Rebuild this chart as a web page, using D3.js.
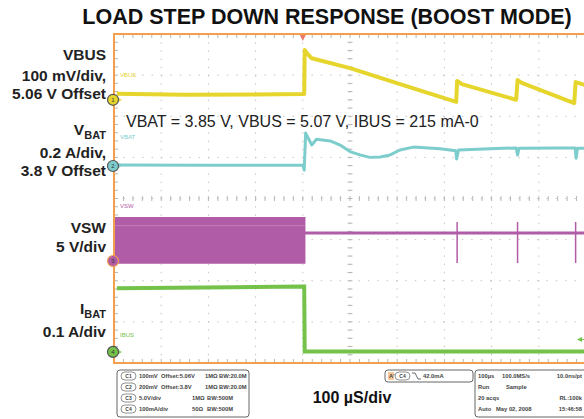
<!DOCTYPE html>
<html>
<head>
<meta charset="utf-8">
<style>
  body { margin: 0; background: #fff; }
  svg { display: block; font-family: "Liberation Sans", Arial, sans-serif; }
</style>
</head>
<body>
<div id="chart"></div>
<script src="https://d3js.org/d3.v7.min.js"></script>
<script>
// time axis in µs, trigger at 0, 100 µs/div
const timeDomain = [-400, 600];
// vertical axis in screen divisions from the centre line
const divDomain = [-4, 4];

// [time µs, divisions]
const vbus = [[-394,2.55],[-250,2.52],[-100,2.53],[0,2.54],[3,2.54],[4,3.61],[9,3.53],[19,3.41],[100,3.17],[206,2.78],[325,2.35],
  [327,2.86],[337,2.78],[452,2.40],[455,2.88],[464,2.81],[575,2.32],[578,2.83],[600,2.75]];
const vbat = [[-394,0.815],[-200,0.81],[0,0.81],[3,0.69],[6,1.59],[19,1.30],[29,1.44],[58,1.40],[79,1.30],[100,1.14],[121,1.06],
  [142,1.0],[164,1.01],[185,1.06],[206,1.18],[234,1.25],[291,1.21],[324,1.16],[326,0.96],[330,1.18],[397,1.21],[452,1.23],
  [455,1.06],[458,1.22],[545,1.23],[577,1.23],[579,0.98],[582,1.22],[600,1.22]];
// switching node: [time, top, bottom]
const vswBand = [[-400,-0.47,-1.57],[4,-0.47,-1.57]];
const vswLine = [[4,-0.84],[600,-0.84]];
const vswSpikes = [327, 455, 578];
const vswSpikeRange = [-0.57, -1.57];
const ibat = [[-394,-2.18],[-150,-2.16],[0,-2.14],[3,-2.14],[4,-3.72],[600,-3.72]];

// channel reference levels (divisions)
const chanRefs = [2.40, 0.79, -1.52, -3.73];
const chanTags = ["VBUS", "VBAT", "VSW", "IBUS"];

const title = "LOAD STEP DOWN RESPONSE (BOOST MODE)";
const note = "VBAT = 3.85 V, VBUS = 5.07 V, IBUS = 215 mA-0";
const sideLabels = [
  ["VBUS", "100 mV/div,", "5.06 V Offset"],
  ["V|BAT", "0.2 A/div,", "3.8 V Offset"],
  ["VSW", "5 V/div"],
  ["I|BAT", "0.1 A/div"]
];
const timebase = "100 µS/div";
const chanRows = [
  ["C1", "100mV", "Offset:5.06V", "1MΩ", "BW:20.0M"],
  ["C2", "200mV", "Offset:3.8V", "1MΩ", "BW:20.0M"],
  ["C3", "5.0V/div", "", "1MΩ", "BW:500M"],
  ["C4", "100mA/div", "", "50Ω", "BW:500M"]
];
const trigText = "42.0mA";
const acqRows = [
  ["100µs", "100.0MS/s", "10.0ns/pt"],
  ["Run", "Sample", ""],
  ["20 acqs", "", "RL:100k"],
  ["Auto", "May 02, 2008", "15:46:58"]
];

const colors = { vbus: "#e6d52c", vbat: "#7dcdcd", vsw: "#b15ca7", ibat: "#74c24a", frame: "#f2a04e", grid: "#c4c4c4" };
const traceColors = [colors.vbus, colors.vbat, colors.vsw, colors.ibat];

const W = 584, H = 419;
const svg = d3.select("#chart").append("svg").attr("width", W).attr("height", H);

const x = d3.scaleLinear().domain(timeDomain).range([114, 586]);
const y = d3.scaleLinear().domain(divDomain).range([363, 34]);

// title
svg.append("text").attr("x", 327).attr("y", 24).attr("text-anchor", "middle")
  .attr("font-size", 21.5).attr("font-weight", "bold").attr("fill", "#111").text(title);

// grid
const grid = svg.append("g");
const vTicks = d3.range(-300, 601, 100);
const hTicks = d3.range(-3, 4, 1);
grid.selectAll(".gv").data(vTicks).join("line")
  .attr("x1", d => x(d)).attr("x2", d => x(d)).attr("y1", y(4)).attr("y2", y(-4))
  .attr("stroke", colors.grid).attr("stroke-width", 1).attr("stroke-dasharray", "1.5,6.7");
grid.selectAll(".gh").data(hTicks).join("line")
  .attr("x1", x(-400)).attr("x2", x(600)).attr("y1", d => y(d)).attr("y2", d => y(d))
  .attr("stroke", colors.grid).attr("stroke-width", 1).attr("stroke-dasharray", "1.5,7.9");

const minorT = d3.range(-400, 601, 20);
const minorD = d3.range(-4, 4.01, 0.2);
// centre cross ticks
grid.selectAll(".ct").data(minorT).join("line")
  .attr("x1", d => x(d)).attr("x2", d => x(d)).attr("y1", y(0) - 2.5).attr("y2", y(0) + 2.5)
  .attr("stroke", "#b8b8b8");
grid.selectAll(".cd").data(minorD).join("line")
  .attr("x1", x(100) - 2.5).attr("x2", x(100) + 2.5).attr("y1", d => y(d)).attr("y2", d => y(d))
  .attr("stroke", "#b8b8b8");
// edge ticks
grid.selectAll(".tt").data(minorT).join("line")
  .attr("x1", d => x(d)).attr("x2", d => x(d)).attr("y1", y(4)).attr("y2", y(4) + 4)
  .attr("stroke", "#b8b8b8");
grid.selectAll(".bt").data(minorT).join("line")
  .attr("x1", d => x(d)).attr("x2", d => x(d)).attr("y1", y(-4)).attr("y2", y(-4) - 4)
  .attr("stroke", "#b8b8b8");
grid.selectAll(".lt").data(minorD).join("line")
  .attr("x1", x(-400)).attr("x2", x(-400) + 4).attr("y1", d => y(d)).attr("y2", d => y(d))
  .attr("stroke", "#b8b8b8");

// tiny channel tags
const tagPos = [2.95, 1.45, -0.22, -3.37];
svg.selectAll(".tag").data(chanTags).join("text")
  .attr("x", 120).attr("y", (d, i) => y(tagPos[i]))
  .attr("font-size", 6).attr("fill", (d, i) => traceColors[i]).text(d => d);

// traces
const line = d3.line().x(d => x(d[0])).y(d => y(d[1]));
svg.append("path").datum(vswBand.map(d => [d[0], d[1]]).concat(vswBand.slice().reverse().map(d => [d[0], d[2]])))
  .attr("d", d => line(d) + "Z").attr("fill", colors.vsw).attr("stroke", colors.vsw).attr("stroke-width", 1.5);
svg.append("line").attr("x1", x(-400)).attr("x2", x(4)).attr("y1", y(-0.66)).attr("y2", y(-0.66))
  .attr("stroke", "#c47dba").attr("stroke-width", 1);
svg.append("path").datum(vswLine).attr("d", line).attr("fill", "none")
  .attr("stroke", colors.vsw).attr("stroke-width", 3);
svg.selectAll(".spike").data(vswSpikes).join("line")
  .attr("x1", d => x(d)).attr("x2", d => x(d)).attr("y1", y(vswSpikeRange[0])).attr("y2", y(vswSpikeRange[1]))
  .attr("stroke", colors.vsw).attr("stroke-width", 1.5);

svg.append("path").datum(ibat).attr("d", line).attr("fill", "none")
  .attr("stroke", colors.ibat).attr("stroke-width", 4);
svg.append("path").datum(vbat).attr("d", line).attr("fill", "none")
  .attr("stroke", colors.vbat).attr("stroke-width", 3).attr("stroke-linejoin", "round");
svg.append("path").datum(vbus).attr("d", line).attr("fill", "none")
  .attr("stroke", colors.vbus).attr("stroke-width", 4).attr("stroke-linejoin", "round");

// frame
svg.append("path")
  .attr("d", `M${W + 5},${y(4)}H${x(-400)}V${y(-4)}H${W + 5}`)
  .attr("fill", "none").attr("stroke", colors.frame).attr("stroke-width", 2);
// trigger position marker
svg.append("path").attr("d", `M${x(0) - 3},${y(4) + 1}L${x(0) + 3},${y(4) + 1}L${x(0)},${y(4) + 7}Z`)
  .attr("fill", "#f07a6a");

// channel markers
const mk = svg.selectAll(".mk").data(chanRefs).join("g")
  .attr("transform", d => `translate(${x(-400) - 1},${y(d)})`);
mk.append("path").attr("d", "M4,-3L9,0L4,3Z").attr("fill", (d, i) => traceColors[i]).attr("opacity", 0.8);
mk.append("circle").attr("r", 5.5).attr("fill", (d, i) => traceColors[i])
  .attr("stroke", (d, i) => i == 2 ? colors.frame : "#555").attr("stroke-width", 1.2);
mk.append("text").attr("y", 2.2).attr("text-anchor", "middle").attr("font-size", 6)
  .attr("fill", "#333").text((d, i) => i + 1);
// small green arrow at right
svg.append("path").attr("d", `M${577},${y(-3.43)}L${582},${y(-3.43) - 2.5}L${582},${y(-3.43) + 2.5}Z`)
  .attr("fill", colors.ibat);
svg.append("line").attr("x1", 580).attr("x2", 586).attr("y1", y(-3.43)).attr("y2", y(-3.43))
  .attr("stroke", colors.ibat).attr("stroke-width", 1);

// annotation
svg.append("text").attr("x", 126).attr("y", 127).attr("font-size", 16).attr("fill", "#222").text(note);

// side labels
const labelY = [[60, 81, 99], [135, 158, 176], [233, 252], [314, 337]];
const side = svg.append("g").attr("font-size", 15.5).attr("font-weight", "bold").attr("fill", "#222").attr("text-anchor", "end");
sideLabels.forEach((lines, i) => {
  lines.forEach((s, j) => {
    const t = side.append("text").attr("x", 106).attr("y", labelY[i][j]);
    if (s.includes("|")) {
      const [a, b] = s.split("|");
      t.append("tspan").text(a);
      t.append("tspan").attr("font-size", 11).attr("dy", 4).text(b);
    } else t.text(s);
  });
});

// bottom panels
const panel = svg.append("g").attr("font-size", 5.8).attr("font-weight", "bold").attr("fill", "#444");
panel.append("rect").attr("x", 117).attr("y", 370).attr("width", 132).attr("height", 47).attr("rx", 3)
  .attr("fill", "#fff").attr("stroke", "#666").attr("stroke-width", 1);
const rowY = [378, 389, 400, 411];
chanRows.forEach((r, i) => {
  panel.append("rect").attr("x", 121).attr("y", rowY[i] - 6).attr("width", 15).attr("height", 8).attr("rx", 4)
    .attr("fill", "#fff").attr("stroke", "#777").attr("stroke-width", 0.8);
  panel.append("text").attr("x", 128.5).attr("y", rowY[i]).attr("text-anchor", "middle").attr("font-size", 5).text(r[0]);
  panel.append("text").attr("x", 139).attr("y", rowY[i]).text(r[1]);
  if (r[2]) panel.append("text").attr("x", 161).attr("y", rowY[i]).text(r[2]);
  panel.append("text").attr("x", i < 2 ? 205 : 192).attr("y", rowY[i]).text(r[3]);
  panel.append("text").attr("x", i < 2 ? 219 : 207).attr("y", rowY[i]).text(r[4]);
});

// trigger panel
panel.append("rect").attr("x", 385).attr("y", 370).attr("width", 88).attr("height", 12).attr("rx", 3)
  .attr("fill", "#fff").attr("stroke", "#666");
panel.append("rect").attr("x", 388).attr("y", 372).attr("width", 6).attr("height", 8).attr("fill", "#f6c89a");
panel.append("text").attr("x", 389).attr("y", 378).text("A'");
panel.append("rect").attr("x", 395).attr("y", 372).attr("width", 15).attr("height", 8).attr("rx", 4)
  .attr("fill", "#fff").attr("stroke", "#777").attr("stroke-width", 0.8);
panel.append("text").attr("x", 402.5).attr("y", 378).attr("text-anchor", "middle").attr("font-size", 5).text("C4");
panel.append("path").attr("d", "M412,373L415,373L418,379L421,379").attr("fill", "none").attr("stroke", "#444").attr("stroke-width", 0.8);
panel.append("text").attr("x", 423).attr("y", 378).text(trigText);

// acquisition panel
panel.append("rect").attr("x", 475).attr("y", 370).attr("width", 120).attr("height", 47).attr("rx", 3)
  .attr("fill", "#fff").attr("stroke", "#666");
acqRows.forEach((r, i) => {
  panel.append("text").attr("x", 478).attr("y", rowY[i]).text(r[0]);
  if (r[1]) panel.append("text").attr("x", i == 3 ? 496 : (i == 1 ? 506 : 502)).attr("y", rowY[i]).text(r[1]);
  if (r[2]) panel.append("text").attr("x", 582).attr("text-anchor", "end").attr("y", rowY[i]).text(r[2]);
});

svg.append("text").attr("x", 352).attr("y", 403).attr("text-anchor", "middle")
  .attr("font-size", 16).attr("font-weight", "bold").attr("fill", "#111").text(timebase);
</script>
</body>
</html>
